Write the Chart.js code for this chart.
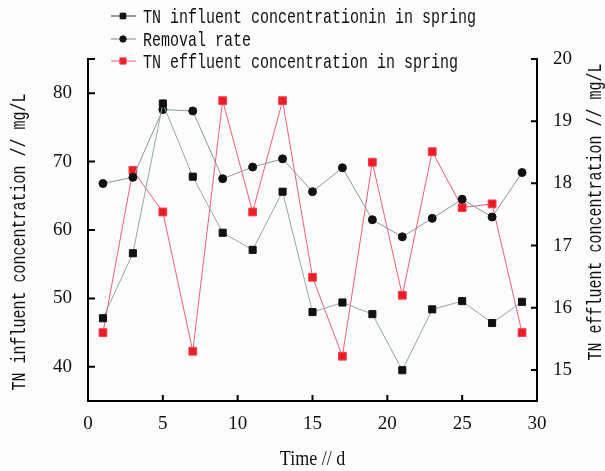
<!DOCTYPE html>
<html>
<head>
<meta charset="utf-8">
<script src="https://cdn.jsdelivr.net/npm/chart.js@4.4.0/dist/chart.umd.min.js"></script>
<style>
  html, body { margin: 0; padding: 0; background: #fcfcfc; }
  #wrap { width: 605px; height: 471px; }
</style>
</head>
<body>
<div id="wrap"><canvas id="myChart"></canvas></div>
<script>
// sampling days
const days = [1, 3, 5, 7, 9, 11, 13, 15, 17, 19, 21, 23, 25, 27, 29];

// left axis, mg/L
const influent = [47.1, 56.6, 78.5, 67.8, 59.6, 57.1, 65.6, 48.0, 49.4, 47.7, 39.5, 48.4, 49.6, 46.4, 49.5];
// left axis, %
const removal = [66.8, 67.7, 77.6, 77.4, 67.5, 69.2, 70.4, 65.6, 69.1, 61.5, 59.0, 61.7, 64.5, 61.9, 68.4];
// right axis, mg/L
const effluent = [15.6, 18.21, 17.54, 15.3, 19.33, 17.54, 19.33, 16.49, 15.22, 18.34, 16.2, 18.51, 17.61, 17.67, 15.6];

const xTicks = [0, 5, 10, 15, 20, 25, 30];
const leftTicks = [40, 50, 60, 70, 80];
const rightTicks = [15, 16, 17, 18, 19, 20];

const xTitle = 'Time // d';
const leftTitle = 'TN influent concentration // mg/L';
const rightTitle = 'TN effluent concentration // mg/L';

const pts = (arr) => arr.map((v, i) => ({ x: days[i], y: v }));

const tickFont = { family: '"Liberation Serif"', size: 19 };

// tall, narrow text like the original figure
function tallText(ctx, text, x, y, rot, font, stretch) {
  ctx.save();
  ctx.translate(x, y);
  ctx.rotate(rot);
  ctx.scale(1, stretch);
  ctx.font = font;
  ctx.fillStyle = '#111';
  ctx.textAlign = 'center';
  ctx.textBaseline = 'middle';
  ctx.fillText(text, 0, 0);
  ctx.restore();
}

// inward tick marks, axis titles and legend stack
const decorations = {
  id: 'decorations',
  afterDraw(chart) {
    const ctx = chart.ctx;
    const area = chart.chartArea;
    const sx = chart.scales.x, sl = chart.scales.y, sr = chart.scales.y1;
    ctx.save();
    ctx.strokeStyle = '#000';
    ctx.lineWidth = 2;
    ctx.beginPath();
    xTicks.slice(1, -1).forEach(v => {
      const p = sx.getPixelForValue(v);
      ctx.moveTo(p, area.bottom); ctx.lineTo(p, area.bottom - 6);
    });
    leftTicks.forEach(v => {
      const p = sl.getPixelForValue(v);
      ctx.moveTo(area.left, p); ctx.lineTo(area.left + 7, p);
    });
    ctx.moveTo(area.left, area.top); ctx.lineTo(area.left + 7, area.top);
    rightTicks.forEach(v => {
      const p = sr.getPixelForValue(v);
      ctx.moveTo(area.right, p); ctx.lineTo(area.right - 6, p);
    });
    ctx.stroke();

    tallText(ctx, xTitle, (area.left + area.right) / 2, 459, 0, '18px "Liberation Serif"', 1.2);
    tallText(ctx, leftTitle, 20, 242, -Math.PI / 2, '15px "Liberation Mono"', 1.35);
    tallText(ctx, rightTitle, 596, 212, -Math.PI / 2, '15px "Liberation Mono"', 1.35);

    const rows = [16, 39, 61];
    chart.data.datasets.forEach((ds, i) => {
      const y = rows[i];
      ctx.lineWidth = 1;
      ctx.strokeStyle = ds.legendLine;
      ctx.beginPath();
      ctx.moveTo(111, y); ctx.lineTo(136, y);
      ctx.stroke();
      ctx.fillStyle = ds.pointBackgroundColor;
      ctx.strokeStyle = ds.pointBorderColor;
      Chart.helpers.drawPoint(ctx, { pointStyle: ds.pointStyle, radius: ds.pointRadius * 0.8, borderWidth: 1 }, 123, y);
      ctx.save();
      ctx.translate(143, y);
      ctx.scale(1, 1.4);
      ctx.fillStyle = '#111';
      ctx.font = '15px "Liberation Mono"';
      ctx.textBaseline = 'middle';
      ctx.fillText(ds.label, 0, 1);
      ctx.restore();
    });
    ctx.restore();
  }
};

const config = {
  type: 'line',
  data: {
    datasets: [
      {
        label: 'TN influent concentrationin in spring',
        data: pts(influent),
        yAxisID: 'y',
        borderColor: '#93a7a8',
        legendLine: '#333',
        borderWidth: 1,
        pointStyle: 'rect',
        pointRadius: 5,
        pointBackgroundColor: '#111',
        pointBorderColor: '#111',
        tension: 0
      },
      {
        label: 'Removal rate',
        data: pts(removal),
        yAxisID: 'y',
        borderColor: '#889898',
        legendLine: '#888',
        borderWidth: 1,
        pointStyle: 'circle',
        pointRadius: 4,
        pointBackgroundColor: '#111',
        pointBorderColor: '#111',
        tension: 0
      },
      {
        label: 'TN effluent concentration in spring',
        data: pts(effluent),
        yAxisID: 'y1',
        borderColor: '#ec5d78',
        legendLine: '#ec5d78',
        borderWidth: 1,
        pointStyle: 'rect',
        pointRadius: 5.5,
        pointBackgroundColor: '#ec1c24',
        pointBorderColor: '#f04050',
        tension: 0
      }
    ]
  },
  options: {
    responsive: true,
    maintainAspectRatio: false,
    animation: false,
    layout: { padding: { top: 59, left: 0, right: 0, bottom: 0 } },
    plugins: {
      legend: { display: false },
      tooltip: { enabled: false }
    },
    scales: {
      x: {
        type: 'linear',
        position: 'bottom',
        min: 0,
        max: 30,
        afterBuildTicks: s => { s.ticks = xTicks.map(v => ({ value: v })); },
        afterFit: s => { s.height = 70; },
        grid: { display: false, drawTicks: false },
        border: { display: true, color: '#000', width: 2 },
        ticks: { font: tickFont, color: '#111', padding: 12, maxRotation: 0 }
      },
      y: {
        type: 'linear',
        position: 'left',
        min: 35,
        max: 85,
        afterBuildTicks: s => { s.ticks = leftTicks.map(v => ({ value: v })); },
        afterFit: s => { s.width = 88; },
        grid: { display: false, drawTicks: false },
        border: { display: true, color: '#000', width: 2 },
        ticks: { font: tickFont, color: '#111', padding: 16 }
      },
      y1: {
        type: 'linear',
        position: 'right',
        min: 14.5,
        max: 20,
        afterBuildTicks: s => { s.ticks = rightTicks.map(v => ({ value: v })); },
        afterFit: s => { s.width = 68; },
        grid: { display: false, drawTicks: false },
        border: { display: true, color: '#000', width: 2 },
        ticks: { font: tickFont, color: '#111', padding: 16 }
      }
    }
  },
  plugins: [decorations]
};

const myChart = new Chart(document.getElementById('myChart'), config);
</script>
</body>
</html>
